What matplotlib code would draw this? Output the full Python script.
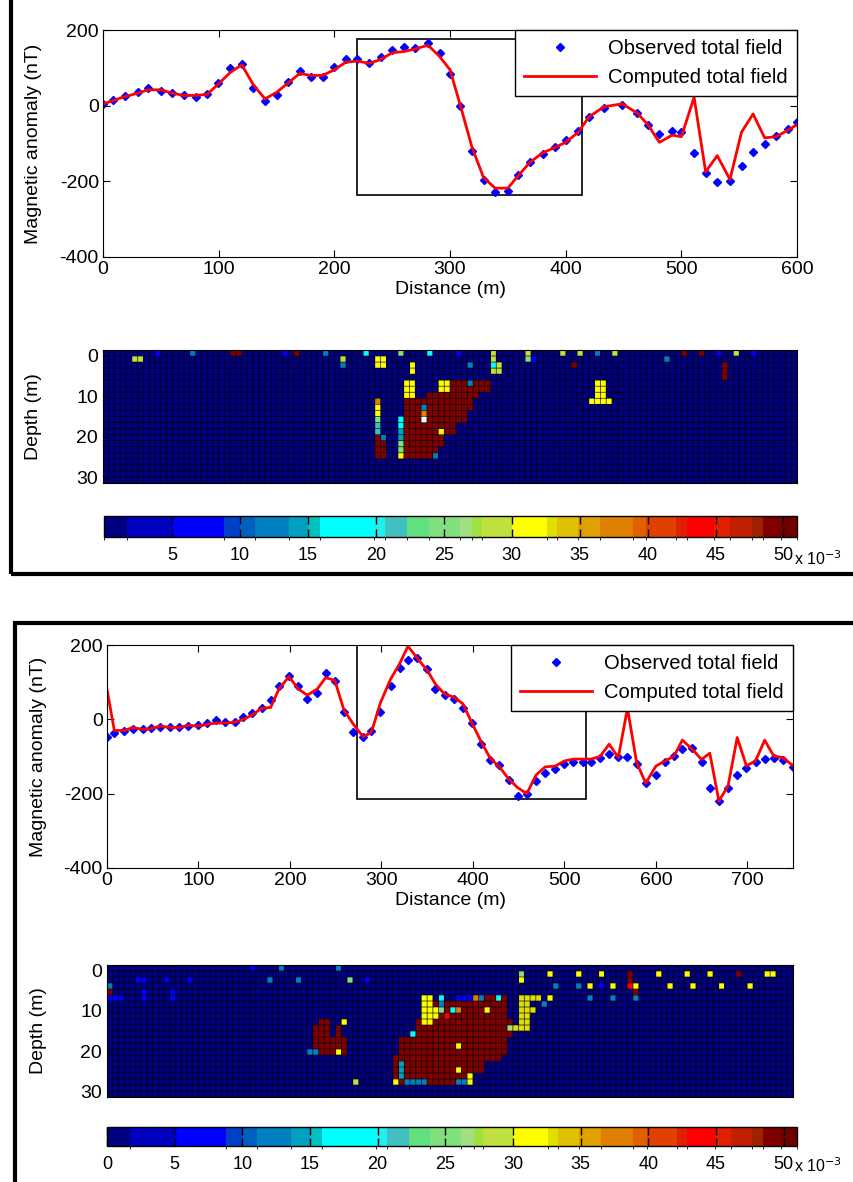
import numpy as np
import matplotlib
matplotlib.use('Agg')
import matplotlib.pyplot as plt
from matplotlib.colors import ListedColormap, BoundaryNorm
from matplotlib.patches import Rectangle

plt.rcParams['font.family'] = ['Liberation Sans', 'DejaVu Sans']
plt.rcParams['font.size'] = 14
plt.rcParams['axes.unicode_minus'] = False

# ---- profile 1 (upper figure) ----
dist1 = [0, 9, 19, 30, 39, 50, 60, 70, 80, 90, 99, 110, 120, 130, 140, 150, 160, 170, 180, 190,
         200, 210, 220, 230, 240, 250, 260, 270, 281, 291, 300, 309, 319, 329, 339, 350, 359, 369,
         380, 391, 400, 411, 420, 433, 449, 462, 471, 481, 492, 500, 511, 521, 531, 542, 552, 562,
         572, 582, 592, 600]
obs1 = [4, 16, 25, 36, 46, 38, 33, 29, 22, 31, 60, 99, 110, 48, 13, 29, 63, 92, 75, 75,
        101, 123, 123, 114, 128, 147, 154, 152, 167, 139, 84, -2, -119, -196, -229, -226, -182, -148,
        -128, -110, -92, -66, -31, -6, 3, -20, -50, -75, -66, -69, -126, -179, -203, -200, -159, -123,
        -101, -79, -62, -44]
calc1 = [4, 14, 24, 33, 42, 42, 33, 27, 27, 30, 55, 88, 108, 55, 18, 35, 60, 85, 80, 80,
         95, 115, 118, 112, 122, 140, 143, 150, 160, 130, 95, 0, -110, -190, -218, -218, -185, -150,
         -125, -110, -97, -70, -30, -3, 5, -20, -50, -97, -78, -82, 22, -175, -132, -195, -70, -22,
         -85, -82, -65, -50]
box1 = [220, 414, -235, 177]

# ---- profile 2 (lower figure) ----
dist2 = [0, 8, 19, 28, 39, 48, 58, 69, 79, 89, 99, 109, 119, 129, 140, 149, 159, 169, 179, 188,
         199, 209, 219, 230, 239, 249, 259, 269, 280, 289, 299, 310, 320, 329, 339, 350, 359, 369,
         379, 389, 399, 409, 419, 429, 439, 449, 459, 469, 479, 490, 500, 510, 520, 529, 539, 549,
         559, 569, 579, 589, 600, 610, 620, 629, 640, 650, 659, 669, 679, 689, 699, 709, 719, 729,
         739, 750]
obs2 = [-47, -36, -31, -25, -27, -23, -20, -20, -20, -18, -16, -9, -2, -7, -7, 5, 18, 31, 51, 90,
        117, 90, 54, 72, 126, 103, 20, -34, -47, -31, 20, 90, 139, 161, 166, 136, 82, 65,
        54, 30, -11, -67, -110, -124, -163, -206, -200, -166, -145, -134, -119, -115, -114, -114, -103, -94,
        -101, -101, -121, -172, -150, -115, -100, -81, -78, -115, -186, -220, -184, -150, -130, -116, -106, -103,
        -110, -127]
calc2 = [80, -30, -30, -22, -27, -25, -18, -22, -22, -16, -18, -14, -10, -10, -8, 0, 12, 30, 32, 82,
         115, 82, 65, 82, 112, 105, 25, -12, -47, -35, 45, 108, 150, 197, 165, 132, 95, 68,
         60, 42, -10, -60, -105, -128, -160, -184, -200, -150, -128, -126, -112, -107, -107, -107, -100, -67,
         -103, 30, -116, -172, -126, -112, -99, -56, -81, -108, -91, -220, -179, -49, -125, -112, -56, -99,
         -103, -125]
box2 = [273, 524, -215, 200]

# ---- inverted susceptibility models: (first col, last col, first row, last row, value) ----
model1_blocks = [
    (59, 66, 5, 6, 0.049), (56, 64, 7, 7, 0.049), (52, 63, 8, 9, 0.049), (52, 62, 10, 11, 0.049),
    (52, 60, 12, 13, 0.049), (52, 58, 14, 15, 0.049), (52, 57, 16, 17, 0.049),
    (47, 47, 14, 17, 0.049), (48, 48, 15, 17, 0.049),
    (47, 47, 8, 8, 0.038), (47, 47, 9, 10, 0.031), (47, 47, 11, 11, 0.024), (47, 47, 12, 13, 0.021),
    (48, 48, 14, 14, 0.013),
    (51, 51, 11, 12, 0.018), (51, 51, 13, 14, 0.014), (51, 51, 15, 16, 0.024), (51, 51, 17, 17, 0.031),
    (52, 53, 5, 7, 0.031), (53, 53, 2, 3, 0.031), (58, 59, 5, 6, 0.031), (58, 58, 13, 13, 0.031),
    (55, 55, 9, 9, 0.013), (55, 55, 10, 10, 0.038), (55, 55, 11, 11, 0.06), (63, 63, 5, 5, 0.013),
    (57, 57, 17, 17, 0.013),
    (47, 48, 1, 2, 0.031), (41, 41, 1, 1, 0.029), (41, 41, 2, 2, 0.013), (5, 6, 1, 1, 0.029),
    (9, 9, 0, 0, 0.007), (15, 15, 0, 0, 0.013), (22, 23, 0, 0, 0.049), (31, 31, 0, 0, 0.007),
    (33, 33, 0, 0, 0.049), (38, 38, 0, 0, 0.013), (45, 45, 0, 0, 0.018), (51, 51, 0, 0, 0.024),
    (56, 56, 0, 0, 0.018), (61, 61, 0, 0, 0.007), (63, 63, 2, 2, 0.013),
    (67, 67, 0, 3, 0.029), (68, 68, 2, 3, 0.029), (67, 67, 2, 2, 0.018),
    (73, 73, 0, 0, 0.029), (73, 73, 1, 1, 0.025), (74, 74, 1, 1, 0.007),
    (79, 79, 0, 0, 0.029), (82, 82, 0, 0, 0.029), (81, 81, 2, 2, 0.049), (85, 85, 0, 0, 0.013),
    (88, 88, 0, 0, 0.029), (97, 97, 1, 1, 0.013), (100, 100, 0, 0, 0.049), (103, 103, 0, 0, 0.049),
    (106, 106, 0, 0, 0.007), (107, 107, 2, 4, 0.049), (109, 109, 0, 0, 0.029), (112, 112, 0, 0, 0.007),
    (85, 86, 5, 7, 0.031), (84, 87, 8, 8, 0.031),
]

model2_blocks = [
    (37, 38, 9, 14, 0.049), (36, 36, 10, 14, 0.049), (40, 40, 10, 14, 0.049), (36, 41, 12, 14, 0.049),
    (41, 41, 9, 9, 0.031), (40, 40, 14, 14, 0.031), (35, 36, 14, 14, 0.013), (43, 43, 19, 19, 0.029),
    (62, 69, 5, 5, 0.049), (57, 69, 6, 8, 0.049), (54, 70, 9, 11, 0.049), (51, 69, 12, 14, 0.049),
    (50, 68, 15, 15, 0.049), (50, 65, 16, 17, 0.049), (50, 62, 18, 19, 0.049),
    (55, 56, 5, 9, 0.031), (53, 53, 11, 11, 0.018), (61, 61, 13, 13, 0.031), (61, 61, 17, 17, 0.031),
    (63, 63, 18, 19, 0.031), (50, 50, 19, 19, 0.031), (52, 55, 19, 19, 0.013), (51, 51, 16, 18, 0.014),
    (61, 62, 19, 19, 0.013), (66, 66, 7, 7, 0.031),
    (61, 63, 5, 5, 0.007), (64, 64, 5, 5, 0.038), (65, 65, 5, 5, 0.013), (68, 68, 5, 5, 0.018),
    (58, 58, 5, 5, 0.018), (58, 58, 6, 6, 0.013), (58, 58, 7, 7, 0.025), (60, 60, 7, 7, 0.018),
    (61, 61, 7, 7, 0.038), (59, 59, 8, 8, 0.044), (57, 57, 7, 8, 0.031),
    (72, 73, 5, 10, 0.033), (74, 75, 5, 5, 0.033), (74, 74, 7, 7, 0.033), (71, 71, 10, 10, 0.033),
    (70, 70, 10, 10, 0.027), (76, 76, 6, 6, 0.012),
    (0, 0, 3, 3, 0.013), (0, 0, 4, 4, 0.049), (0, 2, 5, 5, 0.007), (5, 6, 2, 2, 0.007),
    (6, 6, 4, 5, 0.007), (10, 10, 2, 2, 0.007), (11, 11, 4, 5, 0.007), (14, 14, 2, 2, 0.007),
    (25, 25, 0, 0, 0.007), (28, 28, 2, 2, 0.012), (30, 30, 0, 0, 0.012), (33, 33, 2, 2, 0.012),
    (40, 40, 0, 0, 0.012), (42, 42, 2, 2, 0.025), (45, 45, 2, 2, 0.007),
    (72, 72, 1, 1, 0.025), (72, 72, 2, 2, 0.031), (77, 77, 1, 1, 0.031), (77, 77, 5, 5, 0.031),
    (78, 78, 3, 3, 0.013), (82, 82, 1, 1, 0.031), (82, 82, 3, 3, 0.013), (84, 84, 3, 3, 0.031),
    (84, 84, 5, 5, 0.013), (86, 86, 1, 1, 0.031), (86, 86, 3, 3, 0.007), (88, 88, 3, 3, 0.031),
    (88, 88, 5, 5, 0.013), (91, 91, 1, 2, 0.049), (91, 91, 3, 3, 0.044), (92, 92, 3, 3, 0.031),
    (92, 92, 4, 4, 0.049), (92, 92, 5, 5, 0.013), (96, 96, 1, 1, 0.031), (98, 98, 3, 3, 0.031),
    (101, 101, 1, 1, 0.031), (102, 102, 3, 3, 0.031), (105, 105, 1, 1, 0.031), (107, 107, 3, 3, 0.031),
    (110, 110, 1, 1, 0.049), (112, 112, 3, 3, 0.031), (115, 116, 1, 1, 0.031),
]

NCOL, NROW = 120, 22

# colour bands of the colour scale (x 1e-3)
band_edges = [0, 1.7, 5.0, 8.8, 10.0, 11.1, 13.6, 15.0, 15.9, 19.9, 20.7, 22.3, 23.9, 26.2, 27.1,
              27.8, 30.0, 32.6, 33.3, 34.9, 36.5, 38.9, 39.9, 42.1, 42.9, 44.9, 46.1, 47.7, 48.5,
              49.8, 51.0]
band_colors = ['#000080', '#0000BF', '#0000FF', '#0040C8', '#0060C0', '#0080C0', '#00A0C0',
               '#00C0C0', '#00FFFF', '#20F0F0', '#40C0C0', '#60E080', '#80E080', '#A0E080',
               '#A0E040', '#C0E040', '#FFFF00', '#E0E000', '#E0C000', '#E0A000', '#E08000',
               '#E06000', '#E04000', '#E02000', '#FF0000', '#E02000', '#C02000', '#A02000',
               '#800000', '#700000']
cmap = ListedColormap(band_colors)
cmap.set_over('white')
norm = BoundaryNorm(np.array(band_edges) * 1e-3, cmap.N)


def build_model(blocks):
    m = np.zeros((NROW, NCOL))
    for c0, c1, r0, r1, v in blocks:
        m[r0:r1 + 1, c0:c1 + 1] = v
    return m


fig = plt.figure(figsize=(8.54, 11.82), dpi=100)

panels = [
    ([0.1206, 0.7826, 0.8127, 0.1920], [0.1206, 0.5914, 0.8127, 0.1125],
     [0.1218, 0.5457, 0.8115, 0.0178], dist1, obs1, calc1, box1, 600, model1_blocks,
     [0.005, 0.01, 0.015, 0.02, 0.025, 0.03, 0.035, 0.04, 0.045, 0.05]),
    ([0.1253, 0.2657, 0.8033, 0.1886], [0.1253, 0.0719, 0.8033, 0.1117],
     [0.1253, 0.0305, 0.8080, 0.0161], dist2, obs2, calc2, box2, 750, model2_blocks,
     [0, 0.005, 0.01, 0.015, 0.02, 0.025, 0.03, 0.035, 0.04, 0.045, 0.05]),
]

for p_pos, m_pos, c_pos, dist, obs, calc, box, xmax, blocks, cticks in panels:
    # magnetic profile
    ax = fig.add_axes(p_pos)
    ax.plot(dist, obs, 'bD', ms=4, label='Observed total field')
    ax.plot(dist, calc, 'r-', lw=2, label='Computed total field')
    ax.add_patch(Rectangle((box[0], box[2]), box[1] - box[0], box[3] - box[2],
                           fill=False, ec='k', lw=1.2))
    ax.set_xlim(0, xmax)
    ax.set_ylim(-400, 200)
    ax.set_yticks([-400, -200, 0, 200])
    ax.set_xticks(np.arange(0, xmax + 1, 100))
    ax.tick_params(direction='in', top=True, right=True, length=5, labelsize=14, pad=3)
    ax.set_xlabel('Distance (m)', fontsize=14, labelpad=2)
    ax.set_ylabel('Magnetic anomaly (nT)', fontsize=14)
    ax.yaxis.set_label_coords(-0.088, 0.5)
    leg = ax.legend(loc='upper right', borderaxespad=0, fancybox=False, framealpha=1,
                    edgecolor='k', handlelength=3.6, fontsize=14.5, borderpad=0.45,
                    labelspacing=0.5, handletextpad=0.6)
    leg.get_frame().set_linewidth(1.0)

    # susceptibility model
    axm = fig.add_axes(m_pos)
    xe = np.linspace(0, xmax, NCOL + 1)
    ze = np.linspace(-1.25, 31.25, NROW + 1)
    model = build_model(blocks)
    mesh = axm.pcolormesh(xe, ze, model, cmap=cmap, norm=norm)
    axm.vlines(xe, ze[0], ze[-1], colors='k', lw=0.6, alpha=0.75, snap=False)
    axm.hlines(ze, 0, xmax, colors='k', lw=0.6, alpha=0.75, snap=False)
    axm.set_xlim(0, xmax)
    axm.set_ylim(ze[-1], ze[0])
    axm.set_yticks([0, 10, 20, 30])
    axm.set_xticks([])
    axm.tick_params(direction='in', labelsize=14)
    axm.set_ylabel('Depth (m)', fontsize=14)
    axm.yaxis.set_label_coords(-0.088, 0.5)

    # colour scale
    cax = fig.add_axes(c_pos)
    cb = fig.colorbar(mesh, cax=cax, orientation='horizontal', spacing='proportional',
                      ticks=cticks)
    cb.set_ticklabels([f'{t * 1000:g}' for t in cticks])
    cax.tick_params(direction='in', top=True, bottom=True, length=6, width=1, labelsize=13,
                    pad=7)
    cb.outline.set_linewidth(1)
    cax.text(0.996, -1.05, r'x 10$^{-3}$', transform=cax.transAxes, fontsize=11.5,
             ha='left', va='center')

# black frames around the two figure parts
fig.add_artist(Rectangle((11 / 854, 1 - 574 / 1182), 1.05, 574 / 1182 + 0.02,
                         transform=fig.transFigure, fill=False, ec='k', lw=3, clip_on=False))
fig.add_artist(Rectangle((15 / 854, -0.02), 1.05, 1 - 623 / 1182 + 0.02,
                         transform=fig.transFigure, fill=False, ec='k', lw=3, clip_on=False))

fig.savefig('out.png', dpi=100)
